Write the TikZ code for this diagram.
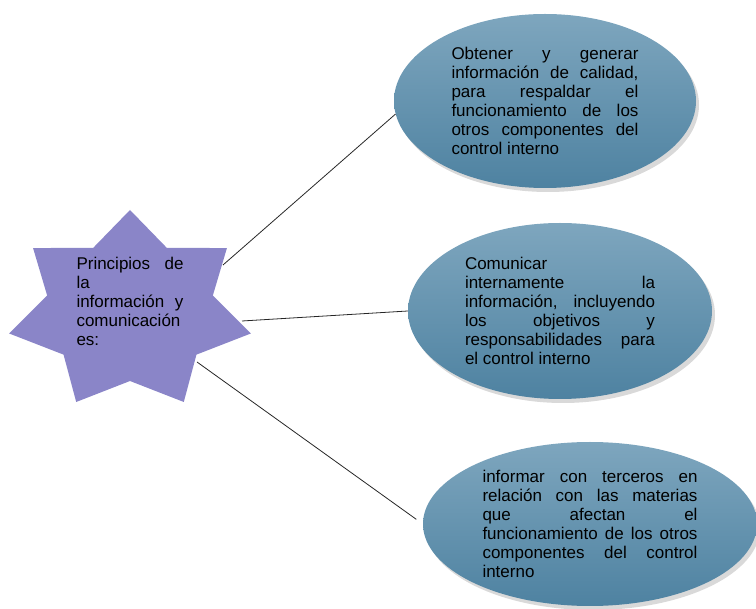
\documentclass[tikz,border=0pt]{standalone}
\usepackage{fontspec}
\setmainfont{Liberation Sans}
\usepackage{tikz}
\usetikzlibrary{shapes.geometric, shadows}
\definecolor{starfill}{RGB}{138,133,200}
\definecolor{bubbletop}{RGB}{126,166,190}
\definecolor{bubblebot}{RGB}{78,130,161}

\begin{document}
\begin{tikzpicture}[x=1pt, y=-1pt,
    bubble/.style={ellipse, inner sep=0pt, top color=bubbletop, bottom color=bubblebot,
                   drop shadow={shadow xshift=3pt, shadow yshift=-4pt, fill=black!50, opacity=0.3},
                   font=\fontsize{17}{19}\selectfont, align=justify},
    txt/.style={font=\fontsize{17}{19}\selectfont, align=justify, inner sep=0pt},
    link/.style={draw=black!85, line width=0.8pt},
]
    \useasboundingbox (0,0) rectangle (756,609);

    % Star
    \fill[starfill] plot[samples at={0,...,13}]
        ({130+(104.5+19.5*cos(\x*180))*cos(90+\x*360/14)},
         {311-(85.5+15.5*cos(\x*180))*sin(90+\x*360/14)}) -- cycle;
    \node[txt, text width=107pt] (principios) at (130,301)
        {Principios de\linebreak la\linebreak información y\linebreak comunicación\linebreak es:};

    % Bubbles
    \node[bubble, minimum width=302pt, minimum height=174pt, text width=187pt] (obtener) at (545,101)
        {Obtener y generar\linebreak información de calidad,\linebreak para respaldar el\linebreak
         funcionamiento de los\linebreak otros componentes del\linebreak control interno};
    \node[bubble, minimum width=304pt, minimum height=176pt, text width=190pt] (comunicar) at (560,311)
        {Comunicar\linebreak internamente la\linebreak información, incluyendo\linebreak los objetivos y\linebreak
         responsabilidades para\linebreak el control interno};
    \node[bubble, minimum width=334pt, minimum height=164pt, text width=215pt] (informar) at (590,524)
        {informar con terceros en\linebreak relación con las materias\linebreak que afectan el\linebreak
         funcionamiento de los otros\linebreak componentes del control\linebreak interno};

    % Links
    \coordinate (s1) at (223,265);
    \coordinate (s2) at (242,321);
    \coordinate (s3) at (197,362);
    \draw[link] (s1) -- (obtener.185);
    \draw[link] (s2) -- (comunicar.west);
    \draw[link, shorten >=8pt] (s3) -- (informar.west);
\end{tikzpicture}
\end{document}
